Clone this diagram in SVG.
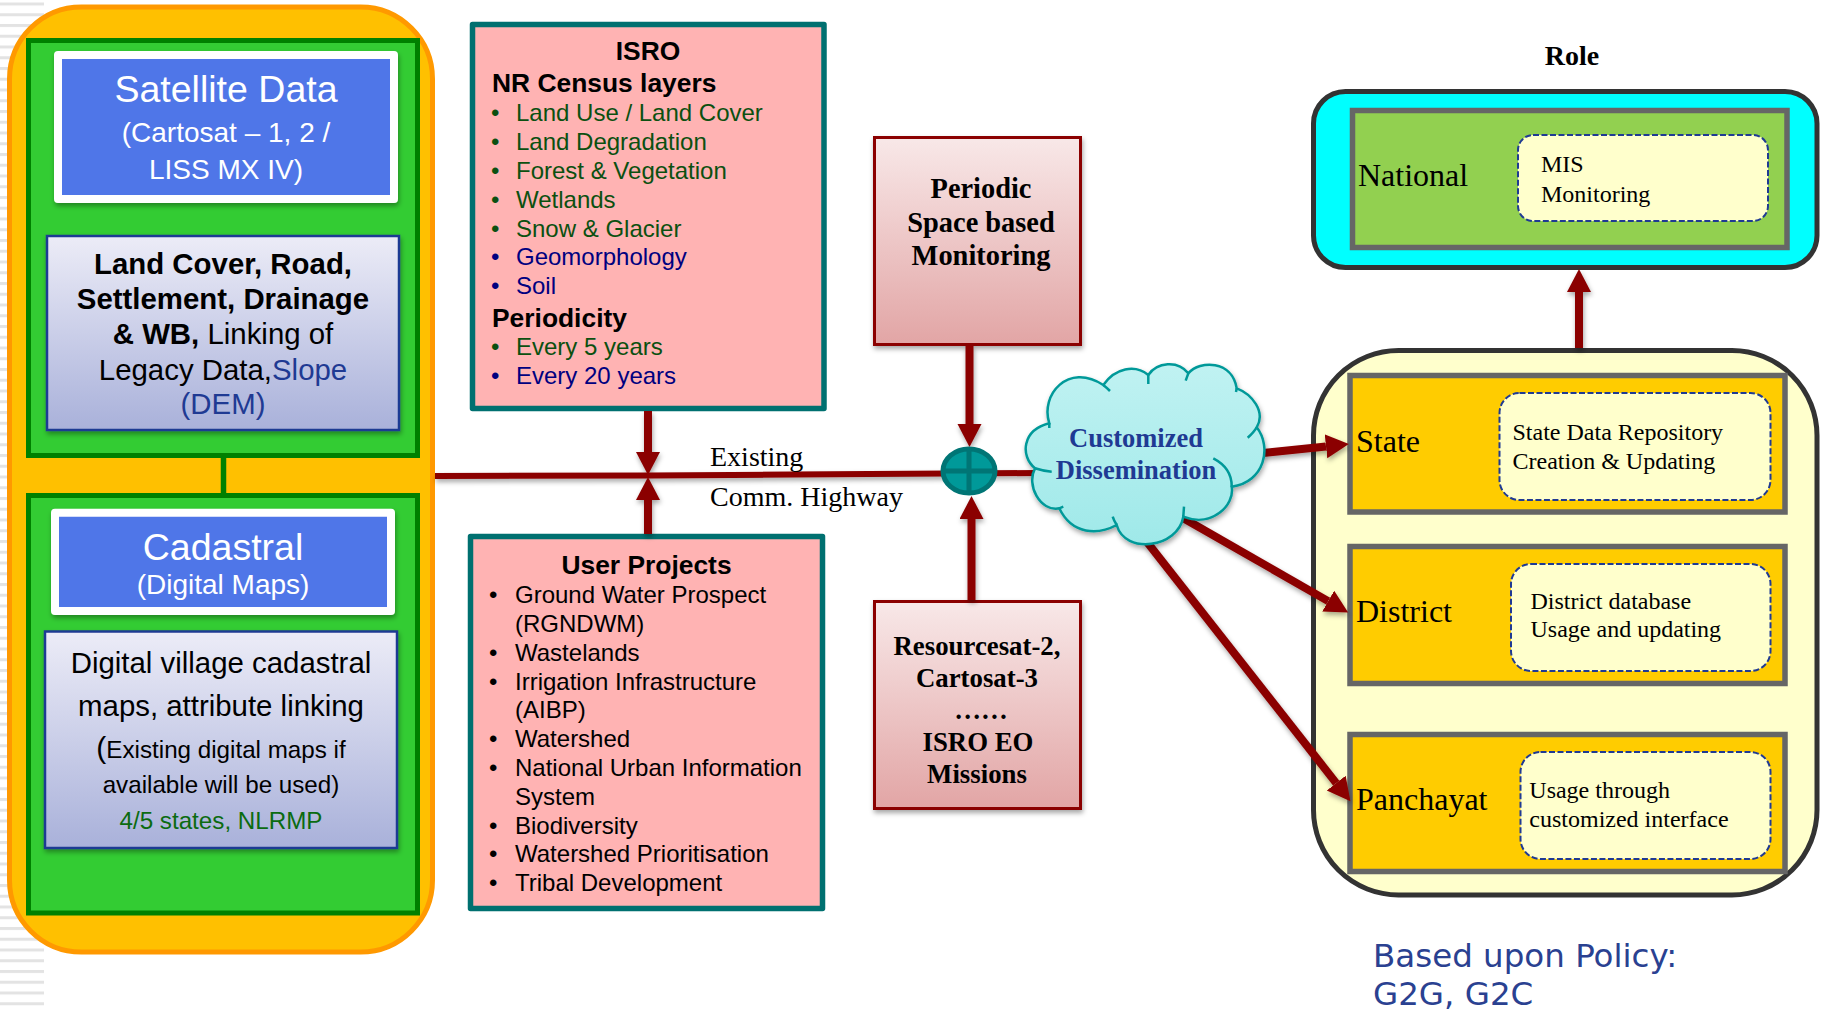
<svg xmlns="http://www.w3.org/2000/svg" width="1823" height="1010" viewBox="0 0 1823 1010">
<style>
text{font-family:"Liberation Sans",Arial,sans-serif}
.serif{font-family:"Liberation Serif","Times New Roman",serif}
.c{text-anchor:middle}
.b{font-weight:bold}
.big{font-size:37.5px;fill:#fff}
.sub{font-size:28px;fill:#fff}
.t30{font-size:29.4px;fill:#000}
.small{font-size:24.2px;fill:#000}
.blueT{fill:#1F3A93}
.item{font-size:24px}
.gr{fill:#0B5010}
.nv{fill:#000080}
.k{fill:#000}
.head{font-size:26.4px;font-weight:bold}
.mon{font-size:28.4px;font-weight:bold;fill:#000}
.mis{font-size:26.8px;font-weight:bold;fill:#000}
.cl{font-size:26.5px;font-weight:bold;fill:#1F3A93}
.lvl{font-size:32px;fill:#000}
.desc{font-size:24px;fill:#000}
.outer{fill:#FFC000;stroke:#FF9900;stroke-width:5}
.green{fill:#33CC33;stroke:#008000;stroke-width:5}
.sat{fill:#4F76E8;stroke:#fff;stroke-width:8;stroke-linejoin:round}
.lav{fill:url(#lavG);stroke:#1F3A93;stroke-width:2.5}
.pink{fill:#FFB3B3;stroke:#007070;stroke-width:5.5;stroke-linejoin:round}
.rose{fill:url(#roseG);stroke:#8B0000;stroke-width:3}
.role{stroke:#333;stroke-width:5}
.lv{stroke:#666;stroke-width:5.5}
.dash{fill:#FFFFCC;stroke:#1F3A93;stroke-width:2;stroke-dasharray:6 2.5}
.wire{fill:none;stroke:#8B0000;stroke-width:8}
.thin{stroke-width:6}
.tick{fill:none;stroke:#009999;stroke-width:2.5}
.policy{font-family:"DejaVu Sans",Verdana,sans-serif;font-size:32.5px;fill:#2A4191}
</style>
<defs>
<linearGradient id="lavG" x1="0" y1="0" x2="0" y2="1"><stop offset="0" stop-color="#ECECF7"/><stop offset="1" stop-color="#A9B1DA"/></linearGradient>
<linearGradient id="roseG" x1="0" y1="0" x2="0" y2="1"><stop offset="0" stop-color="#F8E8E8"/><stop offset="1" stop-color="#E2A5A5"/></linearGradient>
<linearGradient id="cloudG" x1="0" y1="0" x2="0" y2="1"><stop offset="0" stop-color="#C0F2F2"/><stop offset="1" stop-color="#9FE9E9"/></linearGradient>
<pattern id="stripes" width="44" height="10.75" patternUnits="userSpaceOnUse" y="2.5"><rect width="44" height="3" fill="#E3E3E3"/></pattern>
<filter id="sh" x="-15%" y="-15%" width="130%" height="130%"><feDropShadow dx="1" dy="3" stdDeviation="2.5" flood-color="#000" flood-opacity="0.35"/></filter>
<marker id="ah" markerUnits="userSpaceOnUse" markerWidth="26" markerHeight="26" refX="0" refY="12" orient="auto"><path d="M0 0L23 12L0 24Z" fill="#8B0000"/></marker>
</defs>
<rect x="0" y="0" width="44" height="1010" fill="url(#stripes)"/>

<g id="data-panel">
<rect class="outer" x="9.5" y="7" width="423" height="945" rx="72" ry="72"/>
</g>
<g id="satellite-group">
<rect class="green" x="28.5" y="40.5" width="389" height="415"/>
<rect class="sat" x="58" y="55" width="336" height="144" filter="url(#sh)"/>
<text class="c big" x="226" y="102">Satellite Data</text>
<text class="c sub" x="226" y="142">(Cartosat – 1, 2 /</text>
<text class="c sub" x="226" y="179">LISS MX IV)</text>
<rect class="lav" x="47" y="236" width="352" height="194" filter="url(#sh)"/>
<text class="c t30" x="223" y="274"><tspan class="b">Land Cover, Road,</tspan></text>
<text class="c t30" x="223" y="309"><tspan class="b">Settlement, Drainage</tspan></text>
<text class="c t30" x="223" y="344"><tspan class="b">&amp; WB,</tspan> Linking of</text>
<text class="c t30" x="223" y="379.500">Legacy Data,<tspan class="blueT">Slope</tspan></text>
<text class="c t30 blueT" x="223" y="414">(DEM)</text>
</g>
<g id="cadastral-group">
<rect class="green" x="28.5" y="495.5" width="389" height="417.500"/>
<rect class="sat" x="55" y="512.700" width="336" height="98.300" filter="url(#sh)"/>
<text class="c big" x="223" y="559.500">Cadastral</text>
<text class="c sub" x="223" y="594">(Digital Maps)</text>
<rect class="lav" x="45" y="631.500" width="352" height="216.500" filter="url(#sh)"/>
<text class="c t30" x="221" y="673">Digital village cadastral</text>
<text class="c t30" x="221" y="715.500">maps, attribute linking</text>
<text class="c small" x="221" y="758"><tspan font-size="30">(</tspan>Existing digital maps if</text>
<text class="c small" x="221" y="793">available will be used)</text>
<text class="c small" x="221" y="829" style="fill:#0B6B10">4/5 states, NLRMP</text>
</g>

<g id="isro">
<rect class="pink" x="472.5" y="24.5" width="351.5" height="384"/>
<text class="c head k" x="648" y="60">ISRO</text>
<text class="head k" x="492" y="92">NR Census layers</text>
<text class="item gr" x="516" y="121">Land Use / Land Cover</text>
<text class="item gr" x="516" y="150">Land Degradation</text>
<text class="item gr" x="516" y="179">Forest &amp; Vegetation</text>
<text class="item gr" x="516" y="208">Wetlands</text>
<text class="item gr" x="516" y="237">Snow &amp; Glacier</text>
<text class="item nv" x="516" y="265">Geomorphology</text>
<text class="item nv" x="516" y="294">Soil</text>
<text class="head k" x="492" y="326.500">Periodicity</text>
<text class="item gr" x="516" y="355">Every 5 years</text>
<text class="item nv" x="516" y="384">Every 20 years</text>
<text class="item gr" x="491" y="121">•</text>
<text class="item gr" x="491" y="150">•</text>
<text class="item gr" x="491" y="179">•</text>
<text class="item gr" x="491" y="208">•</text>
<text class="item gr" x="491" y="237">•</text>
<text class="item nv" x="491" y="265">•</text>
<text class="item nv" x="491" y="294">•</text>
<text class="item gr" x="491" y="355">•</text>
<text class="item nv" x="491" y="384">•</text>
</g>

<g id="user-projects">
<rect class="pink" x="470.5" y="536.5" width="352" height="372"/>
<text class="c head k" x="646.5" y="574">User Projects</text>
<text class="item k" x="515" y="603">Ground Water Prospect</text>
<text class="item k" x="515" y="632">(RGNDWM)</text>
<text class="item k" x="515" y="660.500">Wastelands</text>
<text class="item k" x="515" y="689.500">Irrigation Infrastructure</text>
<text class="item k" x="515" y="718">(AIBP)</text>
<text class="item k" x="515" y="747">Watershed</text>
<text class="item k" x="515" y="776">National Urban Information</text>
<text class="item k" x="515" y="805">System</text>
<text class="item k" x="515" y="833.500">Biodiversity</text>
<text class="item k" x="515" y="862">Watershed Prioritisation</text>
<text class="item k" x="515" y="891">Tribal Development</text>
<text class="item k" x="489" y="603">•</text>
<text class="item k" x="489" y="660.500">•</text>
<text class="item k" x="489" y="689.500">•</text>
<text class="item k" x="489" y="747">•</text>
<text class="item k" x="489" y="776">•</text>
<text class="item k" x="489" y="833.500">•</text>
<text class="item k" x="489" y="862">•</text>
<text class="item k" x="489" y="891">•</text>
</g>

<g id="periodic">
<rect class="rose" x="874.5" y="137.5" width="206" height="207" filter="url(#sh)"/>
<text class="serif c mon" x="981" y="198">Periodic</text>
<text class="serif c mon" x="981" y="232">Space based</text>
<text class="serif c mon" x="981" y="265">Monitoring</text>
</g>

<g id="missions">
<rect class="rose" x="874.5" y="601.5" width="206" height="207" filter="url(#sh)"/>
<text class="serif c mis" x="977" y="654.500">Resourcesat-2,</text>
<text class="serif c mis" x="977" y="686.500">Cartosat-3</text>
<text class="serif c mis" x="981" y="718.500">……</text>
<text class="serif c mis" x="978" y="750.500">ISRO EO</text>
<text class="serif c mis" x="977" y="782.500">Missions</text>
</g>

<text class="serif c b" x="1572" y="65" font-size="28" fill="#000">Role</text>

<g id="national">
<rect class="role" x="1313.5" y="91.5" width="503.5" height="176" rx="32" fill="#00FFFF"/>
<rect class="lv" x="1352.5" y="110.5" width="434.5" height="137" fill="#92D050"/>
<text class="serif lvl" x="1358" y="186">National</text>
<rect class="dash" x="1518" y="135" width="250" height="86" rx="15"/>
<text class="serif desc" x="1541" y="172">MIS</text>
<text class="serif desc" x="1541" y="202">Monitoring</text>
</g>

<g id="subnational">
<rect class="role" x="1313.5" y="350.5" width="503.5" height="544.500" rx="85" fill="#FFFFCC"/>
</g>
<g id="state">
<rect class="lv" x="1350" y="375.5" width="435" height="136.500" fill="#FFCC00"/>
<text class="serif lvl" x="1356" y="452">State</text>
<rect class="dash" x="1499.5" y="393" width="271" height="107" rx="20"/>
<text class="serif desc" x="1512.500" y="440">State Data Repository</text>
<text class="serif desc" x="1512.500" y="469">Creation &amp; Updating</text>
</g>
<g id="district">
<rect class="lv" x="1350" y="546.500" width="435" height="137" fill="#FFCC00"/>
<text class="serif lvl" x="1356" y="622">District</text>
<rect class="dash" x="1511" y="564" width="259.500" height="107" rx="20"/>
<text class="serif desc" x="1530.500" y="609">District database</text>
<text class="serif desc" x="1530.500" y="637">Usage and updating</text>
</g>
<g id="panchayat">
<rect class="lv" x="1350" y="734.500" width="435" height="137" fill="#FFCC00"/>
<text class="serif lvl" x="1356" y="810">Panchayat</text>
<rect class="dash" x="1520.500" y="752" width="250" height="107" rx="20"/>
<text class="serif desc" x="1529.300" y="798">Usage through</text>
<text class="serif desc" x="1529.300" y="827">customized interface</text>
</g>

<g id="connectors">
<path d="M223.5 458V496" fill="none" stroke="#008000" stroke-width="5.5"/>
<g filter="url(#sh)">
<path class="wire thin" d="M435 476L650 475.500L1040 473"/>
<path class="wire" d="M648 411V452" marker-end="url(#ah)"/>
<path class="wire" d="M648 534V500" marker-end="url(#ah)"/>
<path class="wire" d="M969.5 346V424" marker-end="url(#ah)"/>
<path class="wire" d="M971.5 600V519" marker-end="url(#ah)"/>
<path class="wire" d="M1263 453L1326 446.4" marker-end="url(#ah)"/>
<path class="wire" d="M1183 518L1328.2 601.1" marker-end="url(#ah)"/>
<path class="wire" d="M1147 542L1336.2 783.1" marker-end="url(#ah)"/>
<path class="wire" d="M1579 348V292" marker-end="url(#ah)"/>
</g>
</g>

<g id="highway-label">
<text class="serif" x="710" y="466" font-size="28" fill="#000">Existing</text>
<text class="serif" x="710" y="506" font-size="28" fill="#000">Comm. Highway</text>
</g>

<g id="junction">
<ellipse cx="969" cy="471" rx="26" ry="22" fill="#009999" stroke="#007575" stroke-width="5"/>
<path d="M969 448V494M943 471H995" stroke="#007575" stroke-width="5" fill="none"/>
</g>

<g id="cloud">
<path d="M1049.3 423.3C1040 395 1068 362 1103.3 385C1115 368 1135 364 1148.3 375C1157 362 1178 360 1188.3 373.3C1200 360 1232 360 1236.7 388.3C1252 394 1266 412 1256.7 427.3C1272 447 1265 482 1231.7 486.7C1235 505 1212 528 1183.3 516.7C1178 548 1125 555 1116.7 525C1098 535 1072 535 1059.3 508.3C1040 512 1026 485 1035 468.3C1020 456 1022 430 1049.3 423.3Z" fill="url(#cloudG)" stroke="#009999" stroke-width="2.5" filter="url(#sh)"/>
<path class="tick" d="M1110 391Q1107 388 1103.3 385M1148.3 384V375M1185.7 380.7Q1187 377 1188.3 373.3M1236 392L1236.7 388.3M1247.7 437.7Q1254 432 1256.7 427.3M1213.3 458.3Q1232 468 1231.7 486.7M1184 506.7L1183.3 516.7M1112.7 516.7Q1114 521 1116.7 525M1063.3 506.7L1059.3 508.3M1051.7 471.7Q1043 471 1035 468.3M1049.3 428L1049.3 423.3"/>
<text class="serif c cl" x="1136" y="446.500">Customized</text>
<text class="serif c cl" x="1136" y="478.500">Dissemination</text>
</g>

<g id="policy-note">
<text class="policy" x="1373" y="967">Based upon Policy:</text>
<text class="policy" x="1373" y="1005">G2G, G2C</text>
</g>
</svg>
